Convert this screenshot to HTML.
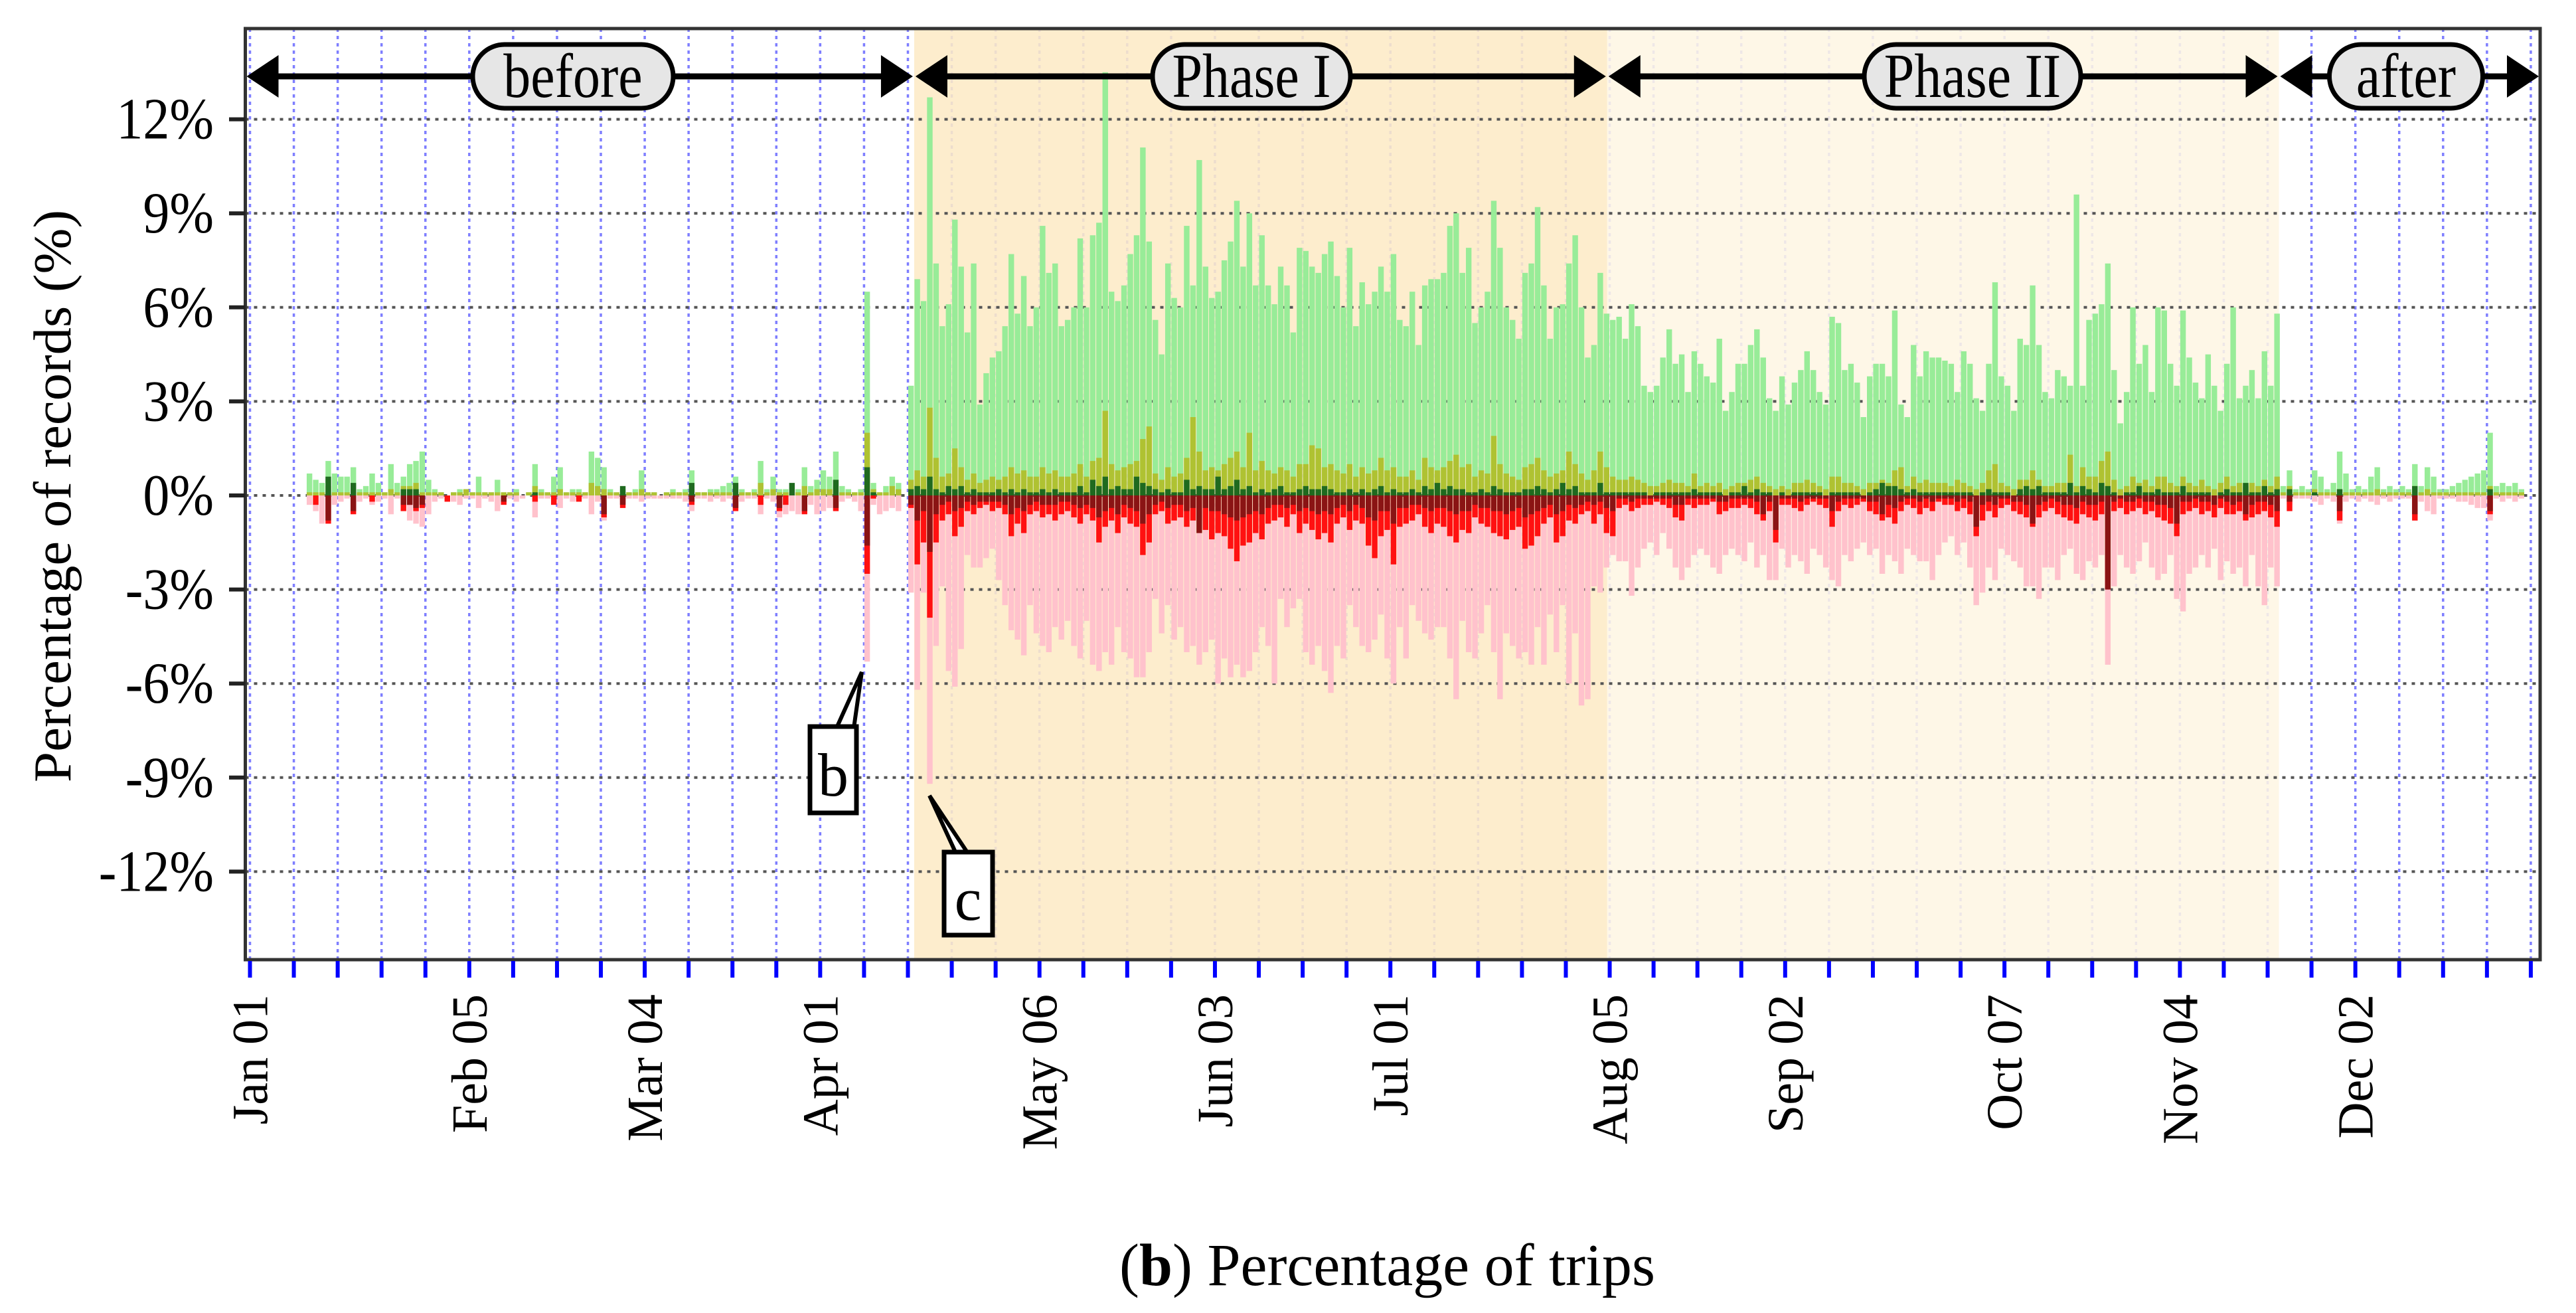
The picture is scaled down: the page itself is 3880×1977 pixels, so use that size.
<!DOCTYPE html>
<html><head><meta charset="utf-8"><style>
html,body{margin:0;padding:0;background:#fff;}
svg{display:block;font-family:"Liberation Serif",serif;}
</style></head><body>
<svg id="chart" width="3880" height="1977" viewBox="0 0 3880 1977" xmlns="http://www.w3.org/2000/svg">
<g id="vgrid"></g>
<g id="phases"></g>
<g id="hgrid"></g>
<g id="bars"></g>
<g id="periods"></g>
<g id="axes"></g>
<g>
<polygon points="1260,1096 1298,1012 1286,1096" fill="#fff" stroke="#000" stroke-width="6"/>
<rect x="1220" y="1094" width="70" height="130" fill="#fff" stroke="#000" stroke-width="7"/>
<text x="1255" y="1198" font-size="92" text-anchor="middle">b</text>
</g>
<g>
<polygon points="1440,1285 1400,1198 1458,1285" fill="#fff" stroke="#000" stroke-width="6"/>
<rect x="1422" y="1283" width="73" height="125" fill="#fff" stroke="#000" stroke-width="7"/>
<text x="1458" y="1385" font-size="92" text-anchor="middle">c</text>
</g>
<text transform="translate(106,747) rotate(-90)" text-anchor="middle" font-size="80" textLength="862" lengthAdjust="spacingAndGlyphs">Percentage of records (%)</text>
<text x="1686" y="1935" font-size="90" textLength="807" lengthAdjust="spacingAndGlyphs">(<tspan font-weight="bold">b</tspan>) Percentage of trips</text>
</svg>
<script>
const yTicks=[-12,-9,-6,-3,0,3,6,9,12];
const xLabelWeeks=[0,5,9,13,18,22,26,31,35,40,44,48];
const xLabels=["Jan 01","Feb 05","Mar 04","Apr 01","May 06","Jun 03","Jul 01","Aug 05","Sep 02","Oct 07","Nov 04","Dec 02"];
const periodNames=["before","Phase I","Phase II","after"];
const periodStarts=[0,106,216.6,323.8];
const periodEnds=[106,216.6,323.8,365.5];

const greenBefore=[0,0,0,0,0,0,0,0,0,0.7,0.5,0.4,1.1,0.7,0.6,0.6,0.9,0.2,0.3,0.7,0.4,0.1,1.0,0.4,0.6,1.0,1.1,1.4,0.5,0.2,0.1,0.0,0.1,0.2,0.2,0.1,0.6,0.1,0.1,0.5,0.1,0.1,0.2,0.0,0.1,1.0,0.2,0.1,0.6,0.9,0.1,0.2,0.2,0.1,1.4,1.2,0.9,0.2,0.1,0.2,0.1,0.2,0.8,0.1,0.1,0.0,0.1,0.2,0.1,0.2,0.8,0.1,0.1,0.2,0.2,0.3,0.4,0.6,0.2,0.1,0.2,1.1,0.2,0.6,0.2,0.2,0.1,0.2,0.9,0.3,0.5,0.8,0.6,1.4,0.3,0.2,0.1,0.2,6.5,0.4,0.1,0.3,0.6,0.4,0];
const greenP1=[3.5,6.9,6.2,12.7,7.4,5.4,6.1,8.8,7.3,5.2,7.4,2.9,3.9,4.4,4.6,5.4,7.7,5.8,7.0,5.4,6.0,8.6,7.1,7.4,5.4,5.6,6.0,8.2,6.0,8.3,8.7,13.5,6.5,6.2,6.7,7.7,8.3,11.1,8.1,5.6,4.5,7.4,6.3,6.0,8.6,6.7,10.7,7.3,6.3,6.5,7.5,8.1,9.4,7.3,9.0,6.7,8.3,6.7,6.1,7.3,6.7,5.2,7.9,7.8,7.3,7.1,7.7,8.1,7.0,6.0,7.9,5.4,6.8,6.1,6.5,7.3,6.5,7.7,5.6,5.4,6.5,4.8,6.7,6.9,6.9,7.1,8.6,9.0,7.1,7.9,5.5,6.0,6.5,9.4,7.9,6.0,5.6,5.0,7.1,7.4,9.2,6.7,5.0,6.0,6.1,7.4,8.3,6.0,4.4];
const greenP2=[4.8,7.1,5.8,5.6,5.7,5.0,6.1,5.4,3.5,3.3,3.5,4.4,5.3,4.2,4.5,3.3,4.6,4.2,3.8,3.6,5.0,2.7,3.3,4.2,4.2,4.8,5.3,4.4,3.1,2.7,3.8,2.9,3.6,4.0,4.6,4.0,3.3,2.9,5.7,5.5,4.0,4.2,3.6,2.5,3.8,4.2,4.2,3.8,5.9,2.9,2.5,4.8,3.8,4.6,4.4,4.4,4.3,4.2,3.3,4.6,4.2,3.1,2.7,4.2,6.8,3.8,3.5,2.7,5.0,4.8,6.7,4.8,3.3,3.1,4.0,3.8,3.5,9.6,3.5,5.6,5.8,6.1,7.4,4.0,2.3,3.3,6.0,4.2,4.8,3.3,6.0,5.9,4.2,3.5,5.9,4.4,3.6,3.1,4.5,3.5,2.7,4.2,6.0,3.1,3.5,4.0,3.1,4.6,3.5,5.8];
const greenAfter=[0.3,0.8,0.2,0.3,0.2,0.8,0.6,0.2,0.4,1.4,0.7,0.2,0.3,0.2,0.6,0.9,0.2,0.3,0.2,0.3,0.2,1.0,0.3,0.9,0.6,0.2,0.2,0.3,0.4,0.5,0.6,0.7,0.8,2.0,0.3,0.4,0.3,0.4,0.2,0,0,0];

const oliveBefore=[0,0,0,0,0,0,0,0,0,0.1,0.1,0.1,0.3,0.1,0.1,0.1,0.2,0.1,0.1,0.1,0.1,0.1,0.2,0.1,0.3,0.3,0.4,0.1,0.1,0.1,0.1,0.0,0.1,0.1,0.2,0.1,0.1,0.1,0.1,0.1,0.1,0.1,0.1,0.0,0.1,0.3,0.1,0.1,0.1,0.2,0.1,0.1,0.1,0.1,0.4,0.3,0.2,0.1,0.1,0.1,0.1,0.1,0.2,0.1,0.1,0.0,0.1,0.1,0.1,0.1,0.2,0.1,0.1,0.1,0.1,0.1,0.1,0.2,0.1,0.1,0.1,0.4,0.1,0.2,0.1,0.1,0.1,0.1,0.3,0.1,0.2,0.2,0.2,0.3,0.1,0.1,0.1,0.1,2.0,0.2,0.1,0.1,0.3,0.2,0];
const oliveP1=[0.5,0.8,0.6,2.8,1.2,0.6,0.7,1.5,0.9,0.5,0.7,0.4,0.5,0.6,0.5,0.6,0.9,0.7,0.8,0.6,0.6,0.9,0.7,0.8,0.6,0.6,0.7,1.0,0.6,1.1,1.2,2.7,1.0,0.8,0.9,1.0,1.1,1.8,2.2,0.7,0.5,0.9,0.6,0.7,1.2,2.5,1.4,0.8,0.9,0.8,1.0,1.2,1.4,0.9,2.0,0.8,1.1,0.8,0.7,0.9,0.8,0.6,1.0,1.0,1.6,1.5,0.9,1.0,0.8,0.7,1.0,0.6,0.9,0.7,0.8,1.2,0.8,0.9,0.6,0.6,0.8,0.5,1.2,0.9,0.8,0.9,1.1,1.3,0.9,1.0,0.6,0.8,0.7,1.9,1.0,0.7,0.6,0.5,0.9,1.0,1.2,0.8,0.6,0.7,0.8,1.4,1.0,0.7,0.5];
const oliveP2=[0.8,1.4,0.9,0.6,0.5,0.5,0.6,0.5,0.4,0.3,0.3,0.4,0.5,0.4,0.4,0.3,0.7,0.3,0.4,0.3,0.4,0.2,0.3,0.4,0.4,0.5,0.6,0.4,0.3,0.2,0.3,0.2,0.4,0.4,0.5,0.4,0.3,0.2,0.6,0.6,0.4,0.4,0.3,0.2,0.4,0.4,0.5,0.4,0.8,0.9,0.3,0.6,0.4,0.5,0.4,0.4,0.4,0.3,0.5,0.4,0.3,0.2,0.4,0.8,1.0,0.4,0.3,0.2,0.5,0.5,0.8,0.5,0.3,0.3,0.4,0.4,1.3,0.3,0.9,0.6,0.6,1.1,1.4,0.5,0.2,0.3,0.6,0.4,0.5,0.3,0.6,0.6,0.4,0.3,0.6,0.4,0.3,0.5,0.3,0.2,0.4,0.6,0.3,0.4,0.3,0.4,0.3,0.5,0.3,0.6];
const oliveAfter=[0.1,0.3,0.1,0.1,0.1,0.2,0.1,0.1,0.1,0.2,0.1,0.1,0.1,0.1,0.1,0.2,0.1,0.1,0.1,0.1,0.1,0.3,0.1,0.2,0.1,0.1,0.1,0.1,0.1,0.1,0.1,0.1,0.1,0.3,0.1,0.1,0.1,0.1,0.1,0,0,0];

const dgBefore=[0,0,0,0,0,0,0,0,0,0,0,0,0.6,0,0,0,0.4,0,0,0,0,0,0,0,0.2,0.2,0.2,0,0,0,0,0,0,0,0,0,0,0,0,0,0,0,0,0,0,0.1,0,0,0,0,0,0,0,0,0,0,0,0,0,0.3,0,0,0,0,0,0,0,0,0,0,0.4,0,0,0,0,0,0,0.4,0,0,0,0,0,0,0,0,0.4,0,0,0,0,0,0,0.5,0,0,0,0,0.9,0.1,0,0,0,0,0];
const dgP1=[0.2,0.3,0.2,0.6,0.2,0.1,0.3,0.2,0.3,0.1,0.2,0.1,0.1,0.1,0.2,0.1,0.2,0.1,0.2,0.1,0.1,0.2,0.1,0.2,0.1,0.1,0.1,0.3,0.1,0.5,0.3,0.6,0.2,0.3,0.2,0.2,0.6,0.4,0.3,0.2,0.1,0.2,0.1,0.1,0.5,0.2,0.3,0.2,0.2,0.6,0.2,0.3,0.5,0.2,0.3,0.1,0.2,0.1,0.2,0.3,0.1,0.1,0.2,0.3,0.2,0.2,0.3,0.2,0.1,0.1,0.2,0.1,0.2,0.1,0.2,0.3,0.1,0.2,0.1,0.1,0.2,0.1,0.3,0.2,0.4,0.2,0.3,0.2,0.2,0.1,0.1,0.2,0.1,0.3,0.2,0.1,0.1,0.1,0.2,0.2,0.3,0.2,0.1,0.2,0.4,0.2,0.3,0.1,0.1];
const dgP2=[0.1,0.4,0.1,0.1,0.1,0.1,0.1,0.1,0.1,0.0,0.1,0.1,0.1,0.1,0.1,0.1,0.2,0.1,0.1,0.1,0.1,0.0,0.1,0.1,0.3,0.1,0.2,0.1,0.1,0.0,0.1,0.0,0.1,0.1,0.1,0.1,0.1,0.0,0.1,0.1,0.1,0.1,0.1,0.0,0.1,0.2,0.4,0.3,0.3,0.2,0.1,0.2,0.1,0.1,0.1,0.1,0.1,0.1,0.1,0.1,0.1,0.0,0.1,0.2,0.1,0.1,0.1,0.0,0.2,0.3,0.2,0.3,0.1,0.1,0.1,0.1,0.4,0.1,0.3,0.2,0.1,0.4,0.3,0.1,0.0,0.1,0.1,0.3,0.1,0.1,0.2,0.1,0.1,0.1,0.3,0.1,0.1,0.1,0.1,0.0,0.1,0.2,0.1,0.1,0.4,0.1,0.1,0.3,0.1,0.2];
const dgAfter=[0,0.2,0,0,0,0.1,0,0,0,0.2,0,0,0,0,0,0,0,0,0,0,0,0.3,0,0,0,0,0,0,0,0,0,0,0,0.2,0,0,0,0,0,0,0,0];

const pinkBefore=[0,0,0,0,0,0,0,0,0,0.3,0.5,0.9,0.6,0.3,0.2,0.1,0.4,0.2,0.1,0.3,0.2,0.1,0.6,0.1,0.4,0.8,0.9,1.0,0.6,0.2,0.1,0.1,0.2,0.3,0.1,0.1,0.4,0.1,0.2,0.5,0.2,0.1,0.2,0.1,0.0,0.7,0.1,0.1,0.2,0.4,0.1,0.2,0.1,0.1,0.6,0.2,0.8,0.1,0.1,0.2,0.1,0.1,0.2,0.1,0.1,0.1,0.1,0.1,0.1,0.2,0.5,0.1,0.1,0.2,0.1,0.2,0.1,0.4,0.2,0.1,0.1,0.6,0.1,0.2,0.7,0.6,0.5,0.6,0.4,0.3,0.6,0.5,0.4,0.3,0.2,0.1,0.2,0.5,5.3,0.3,0.6,0.5,0.4,0.5,0];
const pinkP1=[3.1,6.2,3.1,9.2,4.8,2.9,5.6,6.1,4.9,1.9,2.3,2.3,2.0,1.7,2.7,3.5,4.3,4.6,5.1,3.5,4.4,4.8,5.0,4.2,4.6,4.0,4.8,5.2,4.0,5.4,5.6,5.0,5.4,4.2,5.0,5.2,5.8,5.8,5.0,3.3,4.4,3.5,4.6,4.2,5.0,4.8,5.4,5.0,4.6,6.0,5.2,5.8,5.4,5.8,5.6,5.0,4.2,4.8,6.0,3.3,4.2,3.6,3.3,5.0,5.4,4.8,5.6,6.3,4.8,5.2,3.5,4.2,4.8,5.0,4.6,3.8,5.2,6.0,4.2,5.2,3.5,4.0,4.4,4.6,4.2,4.2,5.2,6.5,4.0,5.0,5.2,4.4,3.5,5.0,6.5,4.4,4.8,5.2,5.0,5.4,4.2,5.4,3.8,5.0,3.5,6.0,4.4,6.7,6.5];
const pinkP2=[2.9,3.1,2.3,1.9,2.1,2.1,3.2,2.3,1.7,1.5,1.9,1.2,1.7,2.3,2.7,2.3,1.9,1.7,1.9,2.3,2.5,1.9,1.7,1.9,2.1,1.5,2.3,1.9,2.7,2.7,1.7,2.3,1.9,2.1,2.5,1.7,1.9,2.3,2.7,2.9,1.9,2.1,1.7,1.5,1.9,1.7,2.5,1.9,2.1,2.5,1.7,1.9,2.1,2.1,2.7,1.9,1.5,1.3,1.9,1.5,2.3,3.5,3.1,2.3,2.7,1.7,1.9,2.1,2.3,2.9,2.9,3.3,2.3,2.3,2.7,1.9,1.7,2.5,2.7,2.1,2.3,1.9,5.4,2.9,1.9,2.3,2.5,2.1,1.5,2.3,2.7,2.5,1.9,3.3,3.7,2.5,2.3,1.9,2.3,1.7,2.7,2.1,2.5,2.3,2.9,1.9,2.9,3.5,2.3,2.9];
const pinkAfter=[0.1,0.3,0.1,0.1,0.1,0.2,0.3,0.1,0.2,0.9,0.2,0.1,0.2,0.1,0.2,0.3,0.1,0.2,0.1,0.1,0.1,0.8,0.2,0.5,0.6,0.1,0.1,0.1,0.2,0.2,0.3,0.4,0.4,0.8,0.1,0.2,0.1,0.2,0.1,0,0,0];

const redBefore=[0,0,0,0,0,0,0,0,0,0,0.3,0,0.9,0,0,0,0.6,0,0,0.2,0,0,0,0,0.5,0.3,0.5,0.4,0,0,0,0.2,0,0,0,0,0,0,0,0,0.3,0,0,0,0,0.2,0,0,0.3,0,0,0,0.2,0,0,0,0.7,0,0,0.4,0,0,0,0,0,0,0,0,0,0,0.3,0,0,0,0,0,0,0.5,0,0,0,0.3,0,0,0.5,0.3,0,0,0.6,0,0,0,0,0.5,0,0,0,0,2.5,0.1,0,0,0,0,0];
const redP1=[0.4,2.2,1.5,3.9,1.5,0.8,0.6,1.3,1.0,0.5,0.6,0.4,0.3,0.5,0.4,0.6,1.3,0.9,1.2,0.6,0.5,0.7,0.6,0.8,0.6,0.5,0.7,0.9,0.6,0.8,1.5,1.0,0.8,1.2,0.7,0.9,1.0,1.9,1.5,0.6,0.5,0.9,0.8,0.7,1.0,0.8,0.8,1.1,1.4,1.2,1.3,1.7,2.1,1.6,1.5,1.2,1.4,0.9,0.8,0.7,1.0,0.6,1.2,0.9,1.1,1.4,1.2,1.5,0.9,0.7,1.1,0.8,0.9,1.6,2.0,1.3,1.1,2.2,1.0,0.9,0.8,0.6,1.0,1.2,0.9,1.0,1.3,1.5,1.1,1.2,0.7,0.9,1.0,1.2,1.3,1.4,1.1,1.0,1.7,1.6,1.3,0.9,0.7,1.5,1.3,0.8,0.9,0.6,0.5];
const redP2=[0.9,0.6,1.2,1.3,0.4,0.3,0.5,0.4,0.3,0.3,0.2,0.3,0.4,0.7,0.8,0.3,0.4,0.3,0.3,0.2,0.6,0.5,0.4,0.4,0.3,0.4,0.6,0.8,0.5,1.5,0.3,0.3,0.4,0.5,0.3,0.2,0.3,0.4,1.0,0.5,0.3,0.4,0.3,0.2,0.5,0.6,0.8,0.7,0.9,0.5,0.3,0.4,0.6,0.4,0.5,0.2,0.3,0.3,0.5,0.4,0.6,1.3,0.8,0.5,0.7,0.4,0.3,0.5,0.6,0.7,1.0,0.7,0.5,0.4,0.6,0.7,0.8,0.9,0.6,0.7,0.8,0.6,3.0,0.5,0.4,0.6,0.5,0.4,0.6,0.5,0.7,0.8,0.9,1.3,0.6,0.5,0.4,0.6,0.5,0.7,0.4,0.6,0.6,0.5,0.8,0.7,0.6,0.5,0.7,1.0];
const redAfter=[0,0.5,0,0,0,0,0,0,0,0.8,0,0,0,0,0,0,0,0,0,0,0,0.8,0,0,0,0,0,0,0,0,0,0,0,0.6,0,0,0,0,0,0,0,0];

const drBefore=[0,0,0,0,0,0,0,0,0,0,0,0,0.8,0,0,0,0.5,0,0,0,0,0,0,0,0.3,0.3,0.4,0.3,0,0,0,0,0,0,0,0,0,0,0,0,0.2,0,0,0,0,0,0,0,0,0,0,0,0,0,0,0,0.6,0,0,0.3,0,0,0,0,0,0,0,0,0,0,0.2,0,0,0,0,0,0,0.4,0,0,0,0,0,0,0.4,0,0,0,0.5,0,0,0,0,0.4,0,0,0,0,1.6,0,0,0,0,0,0];
const drP1=[0.3,0.8,0.5,1.8,0.6,0.3,0.2,0.5,0.4,0.2,0.3,0.2,0.2,0.2,0.2,0.3,0.6,0.4,0.5,0.3,0.2,0.3,0.3,0.3,0.2,0.2,0.3,0.4,0.3,0.4,0.7,0.5,0.4,0.6,0.3,0.4,0.5,0.9,0.6,0.3,0.2,0.4,0.3,0.3,0.5,0.4,1.2,0.4,0.5,0.5,0.6,0.7,0.8,0.7,0.6,0.5,0.6,0.4,0.3,0.3,0.4,0.3,0.5,0.4,0.5,0.6,0.5,0.6,0.4,0.3,0.5,0.3,0.4,0.7,0.8,0.5,0.5,0.9,0.4,0.4,0.3,0.3,0.4,0.5,0.4,0.4,0.5,0.6,0.5,0.5,0.3,0.4,0.4,0.5,0.5,0.6,0.5,0.4,0.7,0.6,0.5,0.4,0.3,0.6,0.5,0.3,0.4,0.3,0.2];
const drP2=[0.3,0.2,0.4,0.5,0.1,0.1,0.2,0.1,0.1,0.1,0.1,0.1,0.1,0.3,0.3,0.1,0.1,0.1,0.1,0.1,0.2,0.2,0.1,0.1,0.1,0.1,0.2,0.6,0.2,1.1,0.1,0.1,0.1,0.2,0.1,0.1,0.1,0.1,0.5,0.2,0.1,0.1,0.1,0.1,0.2,0.2,0.6,0.3,0.4,0.2,0.1,0.1,0.2,0.1,0.2,0.1,0.1,0.1,0.2,0.1,0.2,1.0,0.3,0.2,0.3,0.1,0.1,0.2,0.2,0.3,0.9,0.3,0.2,0.1,0.2,0.3,0.3,0.4,0.2,0.3,0.3,0.2,3.0,0.2,0.1,0.2,0.2,0.1,0.2,0.2,0.3,0.3,0.4,0.9,0.2,0.2,0.1,0.2,0.2,0.3,0.1,0.2,0.3,0.2,0.6,0.3,0.2,0.2,0.3,0.5];
const drAfter=[0,0.2,0,0,0,0,0,0,0,0.5,0,0,0,0,0,0,0,0,0,0,0,0.6,0,0,0,0,0,0,0,0,0,0,0,0.5,0,0,0,0,0,0,0,0];

const greenTotal=greenBefore.concat(greenP1,greenP2,greenAfter);
const oliveSeries=oliveBefore.concat(oliveP1,oliveP2,oliveAfter);
const darkGreenSeries=dgBefore.concat(dgP1,dgP2,dgAfter);
const pinkTotal=pinkBefore.concat(pinkP1,pinkP2,pinkAfter);
const redSeries=redBefore.concat(redP1,redP2,redAfter);
const darkRedSeries=drBefore.concat(drP1,drP2,drAfter);

const NS="http://www.w3.org/2000/svg";
const L=369.5,R=3826,T=43,B=1445;
function xS(d){return 376.5+d*9.438;}
function yS(v){return 746-v*47.2;}
function mk(tag,attrs,parent){const e=document.createElementNS(NS,tag);for(const k in attrs)e.setAttribute(k,attrs[k]);parent.appendChild(e);return e;}

const vg=document.getElementById('vgrid');
for(let w=0;w<=52;w++){
  const ln=mk('line',{x1:xS(w*7),x2:xS(w*7),y1:T,y2:B,stroke:'#7f7fff','stroke-width':3.5,'stroke-dasharray':'5 6'},vg);
  
  
}
const ph=document.getElementById('phases');
const phaseColors=['#fdeac6','#fef6e4'];
for(let i=0;i<2;i++){
  const r=mk('rect',{x:xS(periodStarts[i+1]),y:T,width:xS(periodEnds[i+1])-xS(periodStarts[i+1]),height:B-T,fill:phaseColors[i],'fill-opacity':0.88},ph);
  
  
}
const hg=document.getElementById('hgrid');
yTicks.forEach(v=>{
  const ln=mk('line',{x1:L,x2:R,y1:yS(v),y2:yS(v),stroke:'#555','stroke-width':4,'stroke-dasharray':'5 8'},hg);
  
  
});
const bg=document.getElementById('bars');
function bar(d,v,color,name,neg){
  if(!v)return;
  const y0=yS(0),y1=yS(neg?-v:v);
  const r=mk('rect',{x:xS(d)+0.5,y:Math.min(y0,y1),width:8.4,height:Math.abs(y1-y0),fill:color},bg);
  
  
}
for(let d=0;d<greenTotal.length;d++){
  bar(d,greenTotal[d],'#98ec98','bar-positive-total',false);
  bar(d,oliveSeries[d],'#afc232','bar-positive-mid',false);
  bar(d,darkGreenSeries[d],'#1f6a1f','bar-positive-small',false);
  bar(d,pinkTotal[d],'#ffc2cc','bar-negative-total',true);
  bar(d,redSeries[d],'#ff1111','bar-negative-mid',true);
  bar(d,darkRedSeries[d],'#8a1414','bar-negative-small',true);
}
const pg=document.getElementById('periods');
const pillW=[302,298,326,231];
for(let i=0;i<4;i++){
  const xa=xS(periodStarts[i]),xb=xS(periodEnds[i]);
  const a0=i===0?L:xa, a1=i===3?R:xb;
  const g=mk('g',{},pg);
  
  
  mk('line',{x1:a0+40,x2:a1-40,y1:115,y2:115,stroke:'#000','stroke-width':9},g);
  mk('polygon',{points:`${a0+2},115 ${a0+50},83 ${a0+50},147`,fill:'#000'},g);
  mk('polygon',{points:`${a1-2},115 ${a1-50},83 ${a1-50},147`,fill:'#000'},g);
  const cx=(i===0?863:i===1?1885:i===2?2971:3624);
  mk('rect',{x:cx-pillW[i]/2,y:67,width:pillW[i],height:96,rx:48,ry:48,fill:'#e6e6e6',stroke:'#000','stroke-width':7},g);
  const t=mk('text',{transform:`translate(${cx},146) scale(1,1.15)`,'font-size':82,'text-anchor':'middle'},g);
  t.textContent=periodNames[i];
}
const ax=document.getElementById('axes');
mk('rect',{x:L,y:T,width:R-L,height:B-T,fill:'none',stroke:'#333','stroke-width':5},ax);
yTicks.forEach(v=>{
  const tk=mk('line',{x1:345,x2:L,y1:yS(v),y2:yS(v),stroke:'#222','stroke-width':6},ax);
  
  
  const t=mk('text',{transform:`translate(322,${yS(v)+29}) scale(1,1.1)`,'font-size':80,'text-anchor':'end'},ax);
  
  
  t.textContent=v+'%';
});
for(let w=0;w<=52;w++){
  const tk=mk('line',{x1:xS(w*7),x2:xS(w*7),y1:B+2,y2:1472,stroke:'#0000ff','stroke-width':6},ax);
  
  
}
xLabelWeeks.forEach((w,i)=>{
  const x=xS(w*7)+26;
  const t=mk('text',{transform:`translate(${x},1497) rotate(-90)`,'font-size':76,'text-anchor':'end'},ax);
  
  
  t.textContent=xLabels[i];
});
</script>
</body></html>
